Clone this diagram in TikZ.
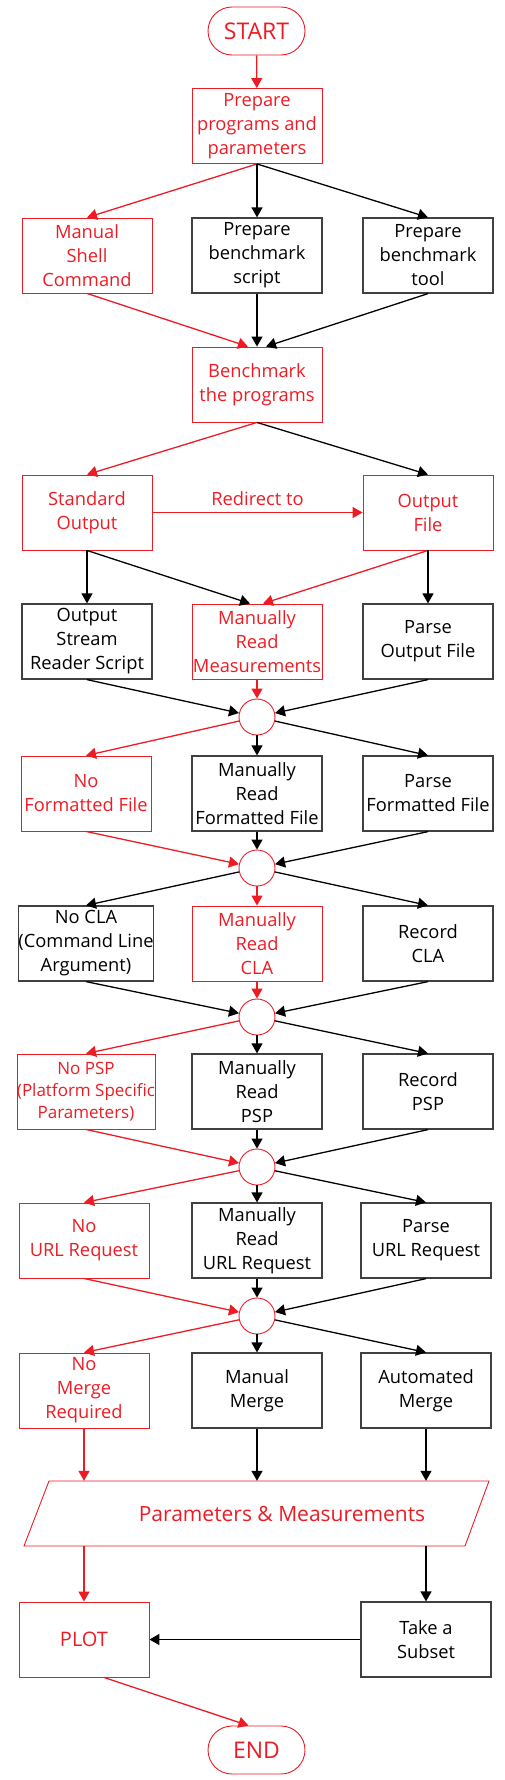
\documentclass[tikz,border=0pt]{standalone}
\usepackage{fontspec}
\setmainfont{Open Sans}
\usetikzlibrary{arrows.meta}
\definecolor{fred}{HTML}{ED1C24}
\definecolor{fgray}{HTML}{404040}
\begin{document}
\begin{tikzpicture}[x=1pt,y=-1pt,
  every node/.style={font=\fontsize{18.3}{24}\selectfont, align=center, inner sep=0pt},
  rbox/.style={draw=fred, line width=0.9pt, text=fred, minimum width=130pt, minimum height=75pt},
  kbox/.style={draw=fgray, line width=1.2pt, text=black, minimum width=130pt, minimum height=75pt},
  term/.style={draw=fred, line width=0.9pt, text=fred, rounded corners=24pt, minimum width=97pt, minimum height=48pt, font=\fontsize{23}{28}\selectfont},
  junc/.style={circle, draw=fred, line width=0.9pt, minimum size=36pt},
  rarr/.style={draw=fred, line width=1.3pt, -{Triangle[length=10pt,width=11pt]}},
  karr/.style={draw=black, line width=1.3pt, -{Triangle[length=10pt,width=11pt]}},
]
\useasboundingbox (0,0) rectangle (504,1780);

% nodes
\node[term] (start) at (256.5,31) {START};
\node[rbox] (prep) at (257,126) {Prepare\\programs and\\parameters};
\node[rbox] (msc) at (87,255.5) {Manual\\Shell\\Command};
\node[kbox] (pbs) at (257,255.5) {Prepare\\benchmark\\script};
\node[kbox] (pbt) at (428,255.5) {Prepare\\benchmark\\tool};
\node[rbox] (bench) at (257,384.5) {Benchmark\\the programs};
\node[rbox] (so) at (87,512.5) {Standard\\Output};
\node[rbox] (of) at (428,512.5) {Output\\File};
\node[kbox] (osrs) at (87,641.5) {Output\\Stream\\Reader Script};
\node[rbox] (mrm) at (257,641.5) {Manually\\Read\\Measurements};
\node[kbox] (pof) at (428,641.5) {Parse\\Output File};
\node[junc] (c1) at (257,717) {};
\node[rbox] (nff) at (86,793.5) {No\\Formatted File};
\node[kbox] (mrff) at (257,793.5) {Manually\\Read\\Formatted File};
\node[kbox] (pff) at (428,793.5) {Parse\\Formatted File};
\node[junc] (c2) at (257,868) {};
\node[kbox] (ncla) at (86,943.5) {No CLA\\(Command Line\\Argument)};
\node[rbox] (mrcla) at (257,943.5) {Manually\\Read\\CLA};
\node[kbox] (rcla) at (428,943.5) {Record\\CLA};
\node[junc] (c3) at (257,1017) {};
\node[rbox, font=\fontsize{17}{22}\selectfont] (npsp) at (86,1091.5) {No PSP\\(Platform Specific\\Parameters)};
\node[kbox] (mrpsp) at (257,1091.5) {Manually\\Read\\PSP};
\node[kbox] (rpsp) at (428,1091.5) {Record\\PSP};
\node[junc] (c4) at (257,1167) {};
\node[rbox] (nurl) at (84,1240.5) {No\\URL Request};
\node[kbox] (mrurl) at (257,1240.5) {Manually\\Read\\URL Request};
\node[kbox] (purl) at (426,1240.5) {Parse\\URL Request};
\node[junc] (c5) at (257,1316) {};
\node[rbox] (nmr) at (84,1390.5) {No\\Merge\\Required};
\node[kbox] (mm) at (257,1390.5) {Manual\\Merge};
\node[kbox] (am) at (426,1390.5) {Automated\\Merge};
\draw[fred, line width=0.9pt] (49,1481) -- (489,1481) -- (465,1546) -- (24,1546) -- cycle;
\node[minimum width=440pt, minimum height=65pt, text=fred, font=\fontsize{21}{28}\selectfont] (para) at (256.5,1513.5) {\hspace*{51pt}Parameters \& Measurements};
\node[rbox, font=\fontsize{20}{26}\selectfont] (plot) at (84,1639.5) {PLOT};
\node[kbox] (sub) at (426,1639.5) {Take a\\Subset};
\node[term] (endn) at (256.5,1750) {END};

% connectors
\draw[rarr] (start) -- (prep);
\draw[rarr] (prep.south) -- (msc.north);
\draw[karr] (prep.south) -- (pbs.north);
\draw[karr] (prep.south) -- (pbt.north);
\draw[rarr] (msc.south) -- ([xshift=-9pt]bench.north);
\draw[karr] (pbs.south) -- (bench.north);
\draw[karr] (pbt.south) -- ([xshift=9pt]bench.north);
\draw[rarr] (bench.south) -- (so.north);
\draw[karr] (bench.south) -- (of.north);
\draw[rarr] (so.east) -- node[above=6pt, text=fred] (redir) {Redirect to} (of.west);
\draw[karr] (so.south) -- (osrs.north);
\draw[karr] (so.south) -- ([xshift=-7pt]mrm.north);
\draw[rarr] (of.south) -- ([xshift=6pt]mrm.north);
\draw[karr] (of.south) -- (pof.north);
\draw[karr] (osrs.south) -- (c1);
\draw[rarr] (mrm.south) -- (c1);
\draw[karr] (pof.south) -- (c1);
\draw[rarr] (c1) -- (nff.north);
\draw[karr] (c1) -- (mrff.north);
\draw[karr] (c1) -- (pff.north);
\draw[rarr] (nff.south) -- (c2);
\draw[karr] (mrff.south) -- (c2);
\draw[karr] (pff.south) -- (c2);
\draw[karr] (c2) -- (ncla.north);
\draw[rarr] (c2) -- (mrcla.north);
\draw[karr] (c2) -- (rcla.north);
\draw[karr] (ncla.south) -- (c3);
\draw[rarr] (mrcla.south) -- (c3);
\draw[karr] (rcla.south) -- (c3);
\draw[rarr] (c3) -- (npsp.north);
\draw[karr] (c3) -- (mrpsp.north);
\draw[karr] (c3) -- (rpsp.north);
\draw[rarr] (npsp.south) -- (c4);
\draw[karr] (mrpsp.south) -- (c4);
\draw[karr] (rpsp.south) -- (c4);
\draw[rarr] (c4) -- (nurl.north);
\draw[karr] (c4) -- (mrurl.north);
\draw[karr] (c4) -- (purl.north);
\draw[rarr] (nurl.south) -- (c5);
\draw[karr] (mrurl.south) -- (c5);
\draw[karr] (purl.south) -- (c5);
\draw[rarr] (c5) -- (nmr.north);
\draw[karr] (c5) -- (mm.north);
\draw[karr] (c5) -- (am.north);
\draw[rarr] (nmr.south) -- (nmr.south |- para.north);
\draw[karr] (mm.south) -- (mm.south |- para.north);
\draw[karr] (am.south) -- (am.south |- para.north);
\draw[rarr] (para.south -| plot.north) -- (plot.north);
\draw[karr] (para.south -| sub.north) -- (sub.north);
\draw[karr] (sub.west) -- (plot.east);
\draw[rarr] ([xshift=20pt]plot.south) -- ([xshift=-8pt]endn.north);
\end{tikzpicture}
\end{document}
